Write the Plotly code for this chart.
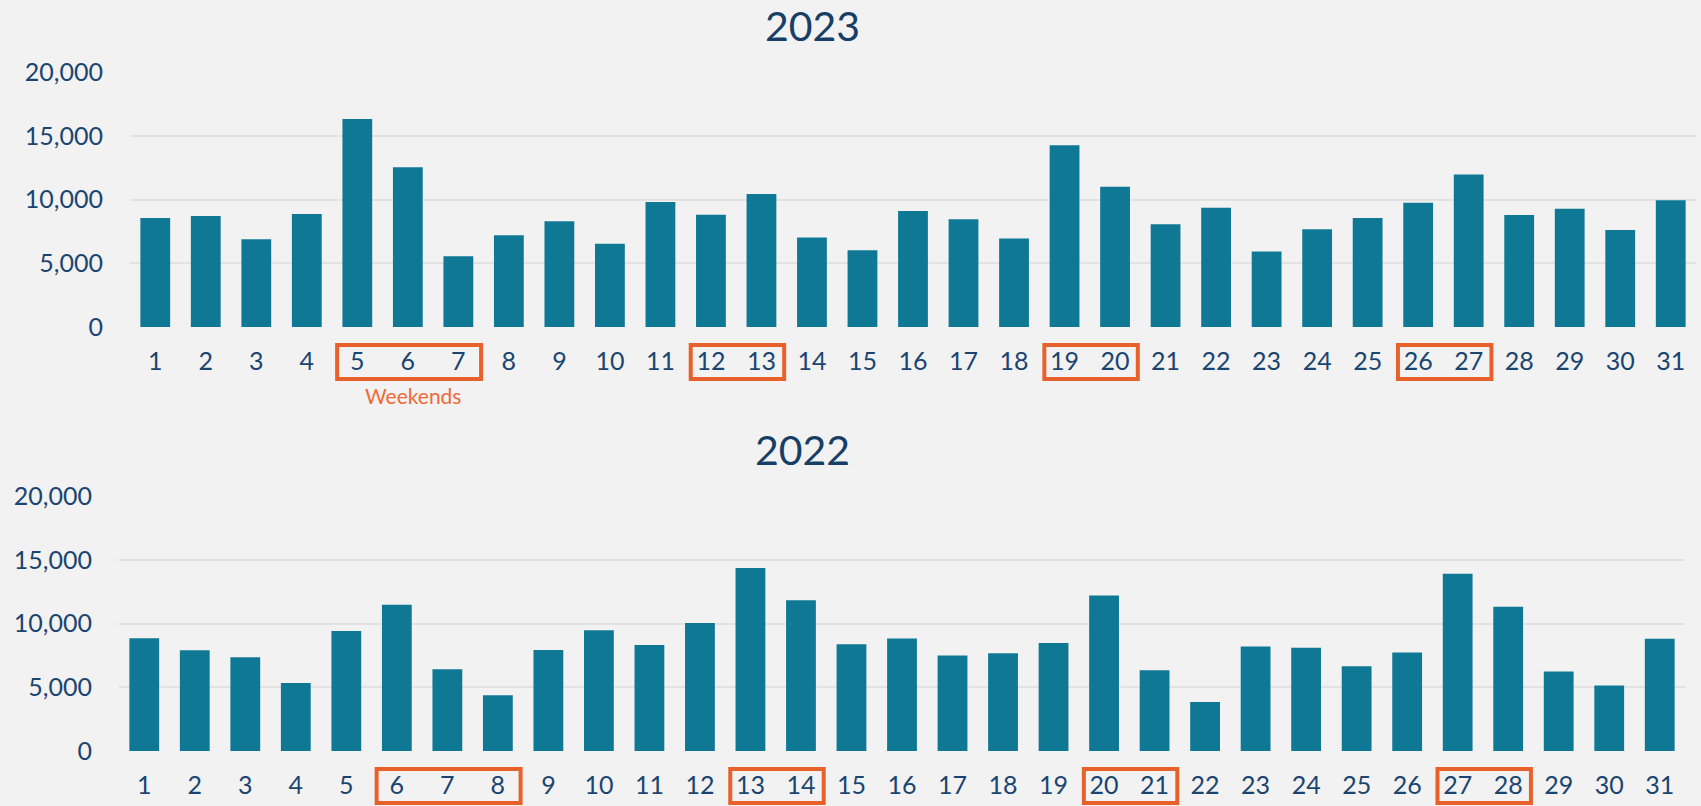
import plotly.graph_objects as go

days = list(range(1, 32))
day_labels = [str(d) for d in days]

visits_2023 = [8550, 8710, 6880, 8870, 16320, 12520, 5550, 7200, 8290, 6520,
               9800, 8810, 10430, 7010, 6020, 9100, 8450, 6940, 14260, 11000,
               8060, 9360, 5920, 7670, 8550, 9750, 11970, 8790, 9280, 7610, 9940]
visits_2022 = [8850, 7910, 7360, 5340, 9420, 11470, 6410, 4370, 7930, 9480,
               8320, 10030, 14350, 11830, 8380, 8820, 7490, 7670, 8480, 12200,
               6340, 3850, 8190, 8090, 6650, 7720, 13900, 11310, 6230, 5130, 8800]

weekends_2023 = [(5, 7), (12, 13), (19, 20), (26, 27)]
weekends_2022 = [(6, 8), (13, 14), (20, 21), (27, 28)]

y_ticks = [0, 5000, 10000, 15000, 20000]

BAR = "#0F7995"
BG = "#F2F2F2"
NAVY = "#1A4570"
TITLE = "#173F66"
ORANGE = "#E8612B"
GRID = "#E2E2E2"
FONT = "Lato"

W, H = 1701, 806

fig = go.Figure()
fig.add_trace(go.Bar(x=days, y=visits_2023, marker_color=BAR, marker_line_width=0,
                     xaxis="x", yaxis="y", showlegend=False))
fig.add_trace(go.Bar(x=days, y=visits_2022, marker_color=BAR, marker_line_width=0,
                     xaxis="x2", yaxis="y2", showlegend=False))

def px_y(p):
    return 1 - p / H

def xax(domain, anchor):
    return dict(domain=domain, anchor=anchor, range=[0.5, 31.5], tickvals=days,
                ticktext=day_labels, showgrid=False, zeroline=False, showline=False,
                ticks="", ticklabelstandoff=17, automargin=False,
                tickfont=dict(family=FONT, size=25, color=NAVY), fixedrange=True)

def yax(domain, anchor):
    return dict(domain=domain, anchor=anchor, range=[0, 20000], tickvals=y_ticks,
                tickformat=",", showgrid=True, gridcolor=GRID, gridwidth=2,
                zeroline=False, showline=False, ticks="", ticklabelstandoff=26,
                automargin=False,
                tickfont=dict(family=FONT, size=25, color=NAVY), fixedrange=True)

fig.update_layout(
    width=W, height=H,
    paper_bgcolor=BG, plot_bgcolor=BG,
    margin=dict(l=0, r=0, t=0, b=0, pad=0),
    bargap=0.41,
    xaxis=xax([130 / W, 1696 / W], "y"),
    yaxis=yax([px_y(327), px_y(72)], "x"),
    xaxis2=xax([119 / W, 1685 / W], "y2"),
    yaxis2=yax([px_y(751), px_y(496)], "x2"),
)

fig.add_annotation(text="2023", x=812 / W, y=px_y(26), xref="paper", yref="paper",
                   showarrow=False, xanchor="center", yanchor="middle",
                   font=dict(family=FONT, size=41, color=TITLE))
fig.add_annotation(text="2022", x=802 / W, y=px_y(449), xref="paper", yref="paper",
                   showarrow=False, xanchor="center", yanchor="middle",
                   font=dict(family=FONT, size=41, color=TITLE))

pad_l, pad_r = 0.40, 0.45
for (a, b) in weekends_2023:
    fig.add_shape(type="rect", xref="x", yref="paper", x0=a - pad_l, x1=b + pad_r,
                  y0=px_y(379), y1=px_y(345), line=dict(color=ORANGE, width=4),
                  fillcolor="rgba(0,0,0,0)")
for (a, b) in weekends_2022:
    fig.add_shape(type="rect", xref="x2", yref="paper", x0=a - pad_l, x1=b + pad_r,
                  y0=px_y(803), y1=px_y(769), line=dict(color=ORANGE, width=4),
                  fillcolor="rgba(0,0,0,0)")

fig.add_annotation(text="Weekends", x=413 / W, y=px_y(395), xref="paper", yref="paper",
                   showarrow=False, xanchor="center", yanchor="middle",
                   font=dict(family=FONT, size=21, color="#EE6A36"))

fig.write_html("out.html", config={"displayModeBar": False},
               post_script="document.body.style.margin='0';document.body.style.overflow='hidden';")
